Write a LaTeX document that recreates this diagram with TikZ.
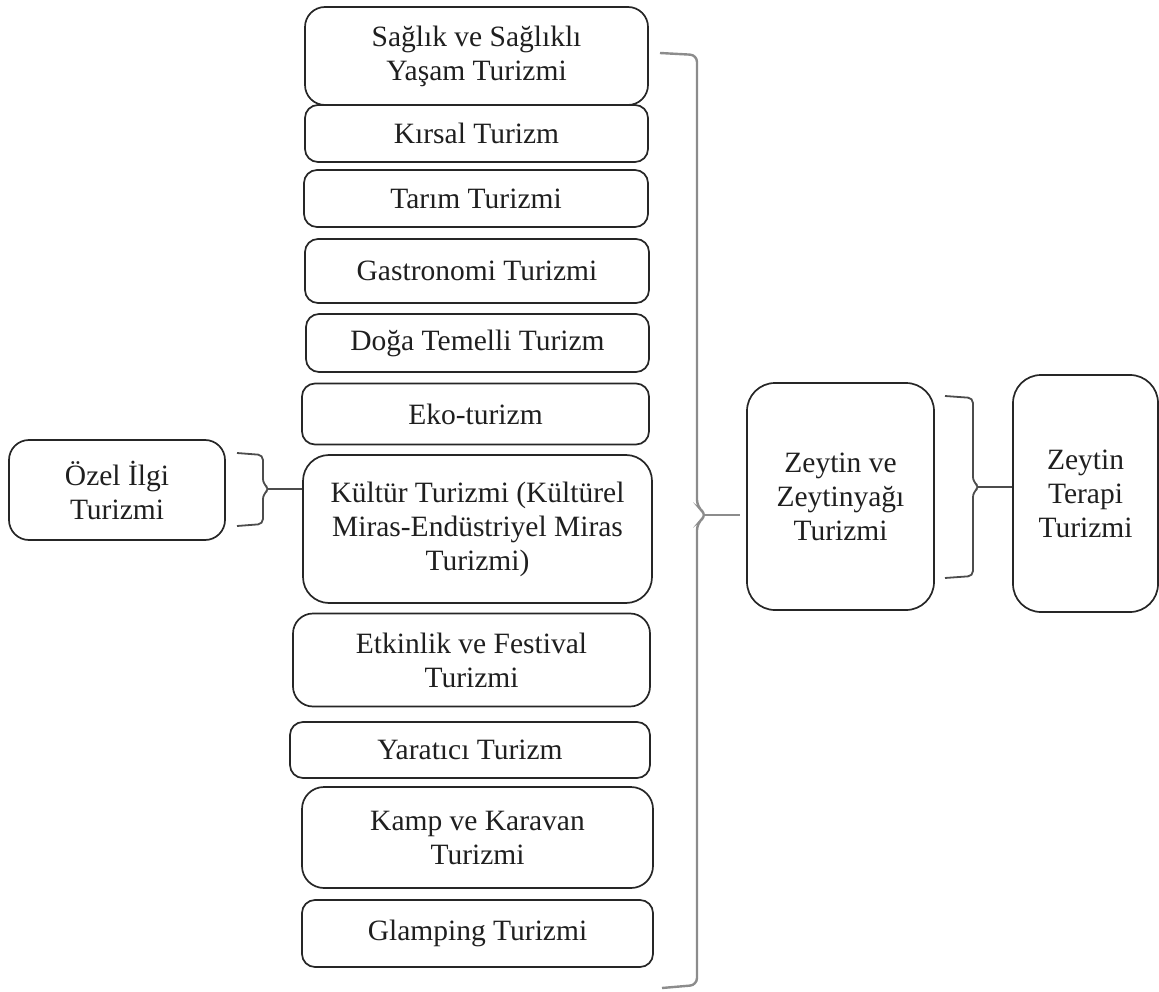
\documentclass[tikz,border=0pt]{standalone}
\usepackage{fontspec}
\setmainfont{Liberation Serif}
\begin{document}
\begin{tikzpicture}[x=1pt,y=-1pt,
  box/.style={draw=black!85, line width=1.7pt, rounded corners=#1, align=center, inner sep=0pt,
    font=\fontsize{29.5}{34}\selectfont, text=black!88},
  box/.default=13pt,
  bigbrace/.style={draw=black!45, line width=2.4pt, rounded corners=7pt},
  smallbrace/.style={draw=black!70, line width=1.8pt, rounded corners=5pt}]
\useasboundingbox (0,0) rectangle (1159,992);

\node[box=20pt, minimum width=343pt, minimum height=98pt] (b1) at (476.5,56) {Sağlık ve Sağlıklı\\Yaşam Turizmi};
\node[box, minimum width=343pt, minimum height=57pt] (b2) at (476.5,133.5) {Kırsal Turizm};
\node[box, minimum width=344pt, minimum height=57pt] (b3) at (476,198.5) {Tarım Turizmi};
\node[box, minimum width=344pt, minimum height=64pt] (b4) at (477,271) {Gastronomi Turizmi};
\node[box, minimum width=343pt, minimum height=58pt] (b5) at (477.5,343) {Doğa Temelli Turizm};
\node[box, minimum width=347pt, minimum height=61pt] (b6) at (475.5,414) {Eko-turizm};
\node[box=26pt, minimum width=349pt, minimum height=148pt] (b7) at (477.5,529) {Kültür Turizmi (Kültürel\\Miras-Endüstriyel Miras\\Turizmi)};
\node[box=20pt, minimum width=357pt, minimum height=93pt] (b8) at (471.5,660) {Etkinlik ve Festival\\Turizmi};
\node[box, minimum width=360pt, minimum height=56pt] (b9) at (470,750) {Yaratıcı Turizm};
\node[box=22pt, minimum width=351pt, minimum height=101pt] (b10) at (477.5,837.5) {Kamp ve Karavan\\Turizmi};
\node[box, minimum width=351pt, minimum height=67pt] (b11) at (477.5,933.5) {Glamping Turizmi};

\node[box=20pt, minimum width=216pt, minimum height=100pt] (oz) at (117,490) {Özel İlgi\\Turizmi};
\node[box=28pt, minimum width=187pt, minimum height=227pt] (zy) at (840.5,496.5) {Zeytin ve\\Zeytinyağı\\Turizmi};
\node[box=28pt, minimum width=145pt, minimum height=237pt] (zt) at (1085.5,493.5) {Zeytin\\Terapi\\Turizmi};

% big brace
\coordinate (t1) at (740,515);
\draw[bigbrace] (660,53) -- (697,55) -- (697,507) -- (707,515) -- (697,523) -- (697,985) -- (662,988);
\draw[bigbrace, rounded corners=0pt] (704,515) -- (t1);

% small left brace
\coordinate (t2) at (b7.west |- 0,489);
\draw[smallbrace] (237,453) -- (263,455) -- (263,484) -- (270,489) -- (263,494) -- (263,524) -- (237,526);
\draw[smallbrace, rounded corners=0pt] (268,489) -- (t2);

% right brace
\coordinate (t3) at (zt.west |- 0,487);
\draw[smallbrace] (945,396) -- (973,398) -- (973,482) -- (980,487) -- (973,492) -- (973,576) -- (945,578);
\draw[smallbrace, rounded corners=0pt] (978,487) -- (t3);
\end{tikzpicture}
\end{document}
